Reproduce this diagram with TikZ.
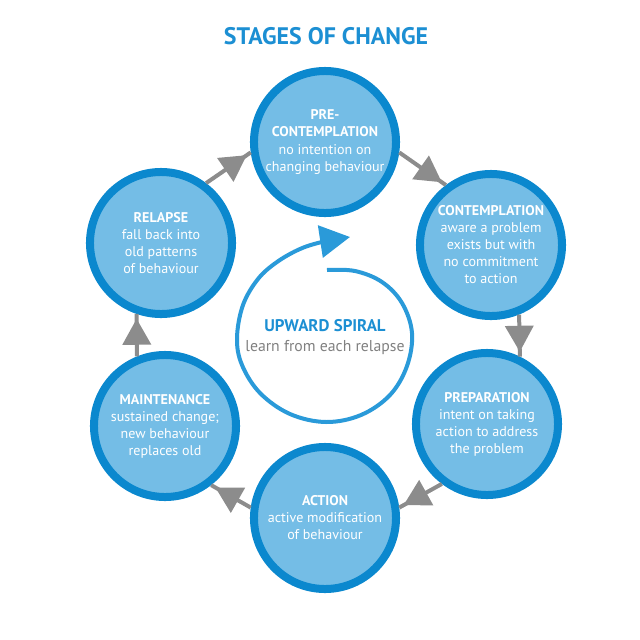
\documentclass[tikz,border=0pt]{standalone}
\usepackage{fontspec}
\setmainfont{PT Sans}
\usetikzlibrary{arrows.meta,decorations.markings}

\definecolor{ringblue}{HTML}{0B88CE}
\definecolor{fillblue}{HTML}{74BDE6}
\definecolor{linkgray}{HTML}{8C8C8C}
\definecolor{spiralblue}{HTML}{2A9AD9}
\definecolor{titleblue}{HTML}{1C8FD3}
\definecolor{notegray}{HTML}{808080}

\begin{document}
\begin{tikzpicture}[x=0.025cm,y=-0.025cm]
  \tikzset{
    stage/.style={circle,draw=ringblue,fill=fillblue,line width=0.2cm,minimum size=3.55cm,
      inner sep=0pt,text=white,align=center,font=\fontsize{10}{12.1}\selectfont},
    link/.style={draw=linkgray,line width=0.1cm,postaction={decorate},
      decoration={markings,mark=at position -0.12cm with {\arrow{Triangle[length=0.65cm,width=0.7cm]}}}},
    spiral/.style={draw=spiralblue,line width=0.1cm,-{Triangle[length=0.75cm,width=0.8cm]}}
  }
  \useasboundingbox (0,0) rectangle (640,640);

  \node[font=\fontsize{17}{20}\selectfont\bfseries,text=titleblue] (title) at (326,36) {STAGES OF CHANGE};

  \node[stage] (pre) at (325,142) {\textbf{PRE-}\\\textbf{CONTEMPLATION}\\no intention on\\changing behaviour};
  \node[stage] (cont) at (491,245) {\textbf{CONTEMPLATION}\\aware a problem\\exists but with\\no commitment\\to action};
  \node[stage] (prep) at (487,424) {\textbf{PREPARATION}\\intent on taking\\action to address\\the problem};
  \node[stage] (act) at (325,518) {\textbf{ACTION}\\active modification\\of behaviour};
  \node[stage] (maint) at (165,426) {\textbf{MAINTENANCE}\\sustained change;\\new behaviour\\replaces old};
  \node[stage] (rel) at (161,243) {\textbf{RELAPSE}\\fall back into\\old patterns\\of behaviour};

  \draw[link] (pre.-8) -- (cont.127);
  \draw[link] (cont.-68) -- (prep.64);
  \draw[link] (prep.-127) -- (act.8);
  \draw[link] (act.172) -- (maint.-52);
  \draw[link] (maint.112) -- (rel.-109);
  \draw[link] (rel.53) -- (pre.188);

  % upward spiral in the middle
  \draw[spiral] plot[smooth,tension=0.6] coordinates {(327,270) (355,271) (382,282) (402,303) (412,333)
    (407,366) (390,395) (361,415) (326,422) (290,414) (260,393) (242,365) (237,338) (243,305)
    (258,279) (277,262) (300,249) (322,242) (350,237)};
  \node[align=center,font=\fontsize{11.2}{14.5}\selectfont] (note) at (325,337)
    {\textcolor{titleblue}{\fontsize{12}{14.5}\selectfont\textbf{UPWARD SPIRAL}}\\\textcolor{notegray}{learn from each relapse}};
\end{tikzpicture}
\end{document}
